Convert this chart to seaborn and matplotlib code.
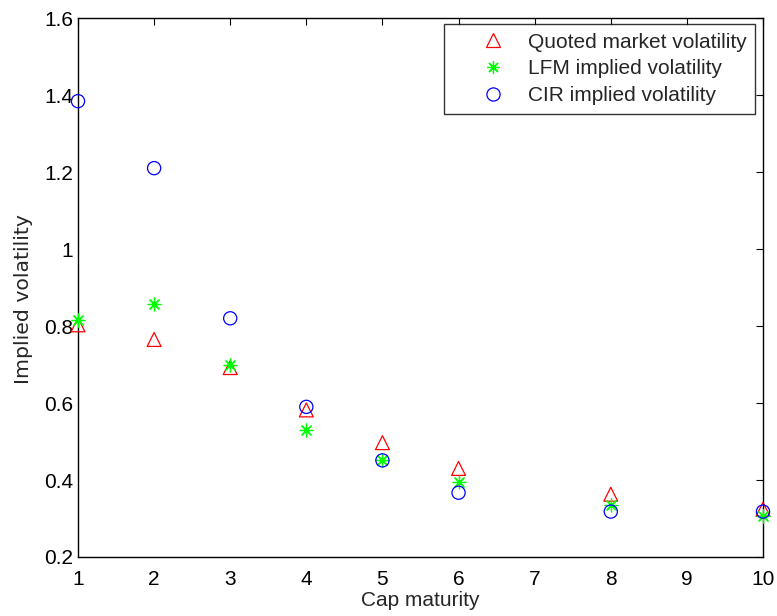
import matplotlib
matplotlib.use("Agg")
import matplotlib.pyplot as plt
from matplotlib.lines import Line2D
from matplotlib.legend_handler import HandlerLine2D
import pandas as pd
import seaborn as sns

# Cap maturities (years) and implied volatilities
maturity = [1, 2, 3, 4, 5, 6, 8, 10]
quoted_vol = [0.803, 0.765, 0.692, 0.582, 0.497, 0.430, 0.363, 0.324]
lfm_vol = [0.815, 0.856, 0.699, 0.530, 0.451, 0.396, 0.335, 0.306]
cir_vol = [1.384, 1.210, 0.820, 0.590, 0.451, 0.367, 0.318, 0.318]

series_names = ["Quoted market volatility", "LFM implied volatility", "CIR implied volatility"]
x_ticks = [1, 2, 3, 4, 5, 6, 7, 8, 9, 10]
y_ticks = [0.2, 0.4, 0.6, 0.8, 1.0, 1.2, 1.4, 1.6]
y_tick_labels = ["0.2", "0.4", "0.6", "0.8", "1", "1.2", "1.4", "1.6"]

FS = 15

sns.set_style("white")
plt.rcParams["font.family"] = ["Liberation Sans", "DejaVu Sans"]
plt.rcParams["font.size"] = FS

df = pd.DataFrame({"maturity": maturity, "quoted": quoted_vol, "lfm": lfm_vol, "cir": cir_vol})

fig = plt.figure(figsize=(7.77, 6.16), dpi=100)
ax = fig.add_axes([78 / 777, 59 / 616, 685 / 777, 539 / 616])

asterisk = (8, 2, 0)
styles = [
    ("quoted", "^", "#ff0000", 100, series_names[0]),
    ("lfm", asterisk, "#00ff00", 85, series_names[1]),
    ("cir", "o", "#0000ff", 90, series_names[2]),
]
handles = []
for col, mk, colr, size, name in styles:
    if mk == asterisk:
        sns.scatterplot(data=df, x="maturity", y=col, ax=ax, marker=mk, s=size,
                        color=colr, linewidth=0.9, legend=False, zorder=3,
                        clip_on=False)
    else:
        sns.scatterplot(data=df, x="maturity", y=col, ax=ax, marker=mk, s=size,
                        facecolor="none", edgecolor=colr, linewidth=0.9,
                        legend=False, zorder=3, clip_on=False)
    handles.append(Line2D([], [], linestyle="none", marker=mk, markersize=size ** 0.5,
                          markerfacecolor="none", markeredgecolor=colr,
                          color=colr, markeredgewidth=0.9, label=name))

ax.set_xlim(1, 10)
ax.set_ylim(0.2, 1.6)
ax.set_xticks(x_ticks)
ax.set_xticklabels([str(t) for t in x_ticks])
ax.set_yticks(y_ticks)
ax.set_yticklabels(y_tick_labels)

for side in ["left", "right", "top", "bottom"]:
    ax.spines[side].set_visible(True)
    ax.spines[side].set_color("black")
    ax.spines[side].set_linewidth(1.0)

ax.tick_params(axis="both", which="both", direction="in", length=5, width=0.8,
               colors="black", labelsize=FS, top=True, right=True)
ax.tick_params(axis="x", pad=9.5)
ax.tick_params(axis="y", pad=3.4)

ax.set_xlabel("Cap maturity", fontsize=FS)
ax.set_ylabel("Implied volatility", fontsize=14.7, family=["DejaVu Sans"])
ax.xaxis.set_label_coords(0.5, -0.064)
ax.yaxis.set_label_coords(-0.0655, 0.479)

handler = HandlerLine2D(xpad=0.58)
leg = ax.legend(handles=handles, loc="upper right",
                bbox_to_anchor=((755 - 78) / 685, (557 - 24) / 539),
                borderaxespad=0, frameon=True, fancybox=False, fontsize=FS,
                handlelength=3.3, handletextpad=0.3, borderpad=0.42,
                labelspacing=0.37,
                handler_map={h: handler for h in handles})
leg.get_frame().set_edgecolor("black")
leg.get_frame().set_linewidth(1.0)

fig.savefig("out.png", dpi=100, facecolor="white")
